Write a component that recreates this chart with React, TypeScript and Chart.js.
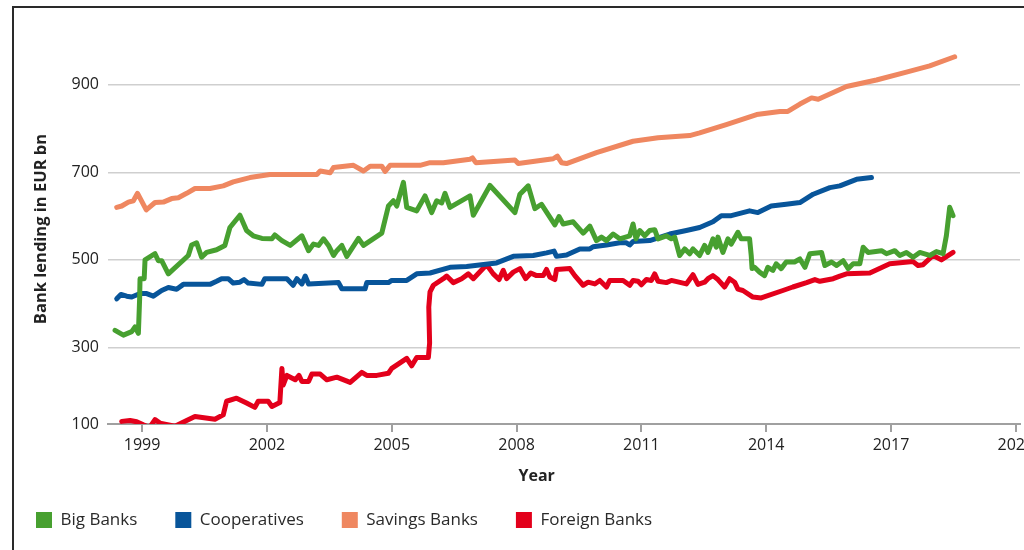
import React, { useEffect, useRef } from 'react';
import { Chart, registerables } from 'chart.js';

Chart.register(...registerables);

const FONT = "'Open Sans', 'Noto Sans', sans-serif";

const seriesLabels = ['Big Banks', 'Cooperatives', 'Savings Banks', 'Foreign Banks'];
const seriesColors = ['#47a030', '#08559a', '#ef8760', '#e3001b'];

const bigBanksYears = [
  1998.35, 1998.55, 1998.75, 1998.83, 1998.91, 1998.94, 1998.95, 1999.05, 1999.07, 1999.31, 1999.39, 1999.47,
  1999.63, 2000.11, 2000.19, 2000.31, 2000.43, 2000.55, 2000.79, 2000.99, 2001.11, 2001.35, 2001.51, 2001.67,
  2001.88, 2002.12, 2002.19, 2002.36, 2002.56, 2002.84, 2003.0, 2003.12, 2003.24, 2003.36, 2003.48, 2003.6,
  2003.68, 2003.8, 2003.92, 2004.2, 2004.32, 2004.76, 2004.92, 2005.04, 2005.12, 2005.28, 2005.36, 2005.6,
  2005.8, 2005.96, 2006.08, 2006.2, 2006.28, 2006.4, 2006.88, 2006.96, 2007.36, 2007.96, 2008.08, 2008.28,
  2008.44, 2008.6, 2008.92, 2009.02, 2009.12, 2009.36, 2009.6, 2009.76, 2009.92, 2010.04, 2010.16, 2010.32,
  2010.48, 2010.72, 2010.8, 2010.87, 2010.96, 2011.08, 2011.2, 2011.32, 2011.4, 2011.6, 2011.72, 2011.8,
  2011.92, 2012.04, 2012.16, 2012.24, 2012.4, 2012.52, 2012.6, 2012.72, 2012.8, 2012.84, 2012.96, 2013.08,
  2013.16, 2013.32, 2013.4, 2013.6, 2013.64, 2013.66, 2013.72, 2013.84, 2013.96, 2014.04, 2014.16, 2014.24,
  2014.36, 2014.48, 2014.68, 2014.81, 2014.93, 2015.05, 2015.33, 2015.41, 2015.57, 2015.69, 2015.85, 2015.97,
  2016.09, 2016.25, 2016.33, 2016.45, 2016.77, 2016.89, 2017.09, 2017.21, 2017.37, 2017.53, 2017.69, 2017.93,
  2018.09, 2018.25, 2018.33, 2018.41, 2018.49,
];
const bigBanksValues = [
  339, 328, 336, 347, 332, 411, 457, 457, 500, 514, 498, 498,
  468, 510, 534, 539, 506, 517, 523, 533, 574, 602, 567, 555,
  549, 548, 557, 544, 533, 555, 521, 536, 533, 548, 533, 510,
  521, 533, 508, 549, 533, 561, 623, 635, 623, 677, 620, 612,
  646, 608, 635, 630, 652, 620, 646, 602, 670, 608, 650, 669,
  617, 627, 580, 599, 582, 587, 561, 577, 544, 552, 544, 559,
  548, 555, 582, 548, 567, 555, 567, 569, 548, 555, 548, 552,
  510, 525, 514, 525, 510, 533, 517, 548, 529, 552, 517, 548,
  536, 563, 548, 548, 510, 480, 483, 472, 464, 483, 476, 491,
  480, 495, 495, 502, 483, 514, 517, 487, 495, 487, 498, 480,
  491, 491, 529, 517, 521, 514, 521, 510, 517, 506, 517, 510,
  519, 514, 555, 620, 601,
];

const cooperativesYears = [
  1998.39, 1998.49, 1998.63, 1998.75, 1998.95, 1999.11, 1999.27, 1999.47, 1999.63, 1999.83, 1999.99, 2000.63,
  2000.79, 2000.91, 2001.07, 2001.19, 2001.35, 2001.45, 2001.55, 2001.88, 2001.95, 2002.48, 2002.63, 2002.72,
  2002.84, 2002.92, 2003.0, 2003.72, 2003.8, 2004.36, 2004.4, 2004.92, 2005.0, 2005.36, 2005.6, 2005.92,
  2006.4, 2006.8, 2007.36, 2007.52, 2007.92, 2008.4, 2008.72, 2008.9, 2008.96, 2009.2, 2009.52, 2009.76,
  2009.84, 2010.16, 2010.48, 2010.64, 2010.72, 2010.8, 2011.2, 2011.68, 2012.08, 2012.4, 2012.72, 2012.92,
  2013.16, 2013.6, 2013.8, 2014.12, 2014.48, 2014.81, 2015.13, 2015.53, 2015.77, 2016.17, 2016.53,
];
const cooperativesValues = [
  411, 421, 417, 415, 423, 423, 417, 430, 437, 433, 444, 444,
  451, 457, 457, 447, 449, 455, 447, 444, 457, 457, 442, 457,
  445, 463, 445, 448, 434, 434, 448, 448, 453, 453, 468, 470,
  483, 485, 491, 493, 508, 510, 516, 520, 508, 511, 525, 525,
  530, 534, 539, 539, 534, 542, 544, 559, 567, 574, 587, 601,
  601, 612, 608, 623, 627, 631, 650, 665, 669, 684, 688,
];

const savingsBanksYears = [
  1998.39, 1998.51, 1998.67, 1998.79, 1998.89, 1999.1, 1999.31, 1999.51, 1999.71, 1999.87, 2000.07, 2000.27,
  2000.63, 2000.95, 2001.19, 2001.59, 2002.07, 2003.2, 2003.28, 2003.52, 2003.6, 2004.08, 2004.32, 2004.48,
  2004.76, 2004.84, 2004.96, 2005.68, 2005.92, 2006.24, 2006.88, 2006.94, 2007.02, 2007.96, 2008.04, 2008.88,
  2008.98, 2009.08, 2009.2, 2009.92, 2010.8, 2011.4, 2012.16, 2012.4, 2013.04, 2013.77, 2014.33, 2014.52,
  2014.81, 2015.09, 2015.25, 2015.93, 2016.65, 2017.37, 2017.93, 2018.53,
];
const savingsBanksValues = [
  620, 623, 632, 635, 652, 614, 631, 632, 640, 642, 652, 663,
  663, 669, 678, 688, 695, 695, 703, 699, 711, 716, 703, 714,
  714, 702, 716, 716, 722, 722, 730, 733, 722, 728, 720, 731,
  737, 722, 720, 745, 771, 779, 784, 790, 809, 832, 839, 839,
  856, 870, 867, 896, 911, 929, 943, 964,
];

const foreignBanksYears = [
  1998.51, 1998.71, 1998.87, 1999.03, 1999.18, 1999.31, 1999.43, 1999.79, 2000.07, 2000.27, 2000.75, 2000.95,
  2001.03, 2001.27, 2001.51, 2001.71, 2001.79, 2002.03, 2002.12, 2002.31, 2002.36, 2002.39, 2002.48, 2002.68,
  2002.77, 2002.84, 2003.0, 2003.08, 2003.28, 2003.44, 2003.68, 2004.0, 2004.28, 2004.4, 2004.64, 2004.92,
  2005.0, 2005.36, 2005.48, 2005.6, 2005.88, 2005.91, 2005.89, 2005.92, 2006.0, 2006.24, 2006.32, 2006.48,
  2006.68, 2006.84, 2006.96, 2007.28, 2007.44, 2007.58, 2007.68, 2007.76, 2007.92, 2008.08, 2008.22, 2008.34,
  2008.48, 2008.64, 2008.72, 2008.8, 2008.92, 2008.96, 2009.28, 2009.4, 2009.6, 2009.72, 2009.88, 2010.0,
  2010.16, 2010.24, 2010.56, 2010.72, 2010.8, 2010.92, 2011.0, 2011.12, 2011.24, 2011.32, 2011.4, 2011.6,
  2011.72, 2012.08, 2012.24, 2012.36, 2012.52, 2012.6, 2012.72, 2012.84, 2013.0, 2013.12, 2013.24, 2013.32,
  2013.44, 2013.68, 2013.88, 2014.4, 2014.64, 2014.97, 2015.17, 2015.29, 2015.61, 2015.77, 2015.93, 2016.49,
  2016.97, 2017.53, 2017.65, 2017.77, 2018.01, 2018.21, 2018.49,
];
const foreignBanksValues = [
  131, 133, 130, 123, 117, 135, 127, 120, 133, 142, 136, 146,
  177, 184, 173, 163, 177, 177, 165, 174, 252, 214, 236, 226,
  236, 222, 222, 239, 239, 226, 232, 220, 243, 236, 236, 241,
  252, 275, 258, 277, 277, 310, 392, 427, 442, 457, 463, 448,
  457, 468, 457, 489, 468, 455, 476, 457, 472, 480, 457, 470,
  464, 464, 478, 461, 455, 478, 480, 464, 442, 449, 445, 453,
  438, 453, 453, 442, 453, 451, 443, 455, 453, 468, 451, 448,
  453, 445, 466, 444, 449, 457, 464, 455, 438, 457, 449, 433,
  430, 415, 413, 430, 438, 448, 455, 451, 457, 463, 468, 470,
  491, 496, 487, 489, 510, 500, 517,
];

const xTickYears = [1999, 2002, 2005, 2008, 2011, 2014, 2017, 2020];
const yTickValues = [125, 300, 500, 700, 900];
const yTickLabels = ['100', '300', '500', '700', '900'];
const xAxisTitle = 'Year';
const yAxisTitle = 'Bank lending in EUR bn';

const seriesYears = [bigBanksYears, cooperativesYears, savingsBanksYears, foreignBanksYears];
const seriesValues = [bigBanksValues, cooperativesValues, savingsBanksValues, foreignBanksValues];

const yearTitlePlugin = {
  id: 'yearTitle',
  afterDraw(chart: any) {
    const { ctx, chartArea } = chart;
    ctx.save();
    ctx.font = `bold 16px ${FONT}`;
    ctx.fillStyle = '#222';
    ctx.textAlign = 'center';
    ctx.textBaseline = 'middle';
    ctx.fillText(xAxisTitle, chartArea.left + (chartArea.right - chartArea.left) * 0.47, chartArea.bottom + 52);
    ctx.restore();
  },
};

export default function App() {
  const canvasRef = useRef<HTMLCanvasElement | null>(null);

  useEffect(() => {
    const canvas = canvasRef.current;
    if (!canvas) return;
    const datasets = seriesLabels.map((label, i) => ({
      label,
      data: seriesYears[i].map((x, j) => ({ x, y: seriesValues[i][j] })),
      borderColor: seriesColors[i],
      backgroundColor: seriesColors[i],
      borderWidth: 5,
      pointRadius: 0,
      pointHoverRadius: 0,
      tension: 0,
      borderJoinStyle: 'round' as const,
      borderCapStyle: 'round' as const,
      fill: false,
    }));

    const chart = new Chart(canvas, {
      type: 'line',
      data: { datasets },
      plugins: [yearTitlePlugin],
      options: {
        animation: false,
        responsive: false,
        devicePixelRatio: 1,
        layout: { padding: { left: 8, right: 70, top: 34, bottom: 61.5 } },
        plugins: {
          tooltip: { enabled: false },
          legend: {
            position: 'bottom',
            align: 'start',
            labels: {
              boxWidth: 16,
              boxHeight: 16,
              padding: 38,
              color: '#2a2a2a',
              font: { family: FONT, size: 17 },
              generateLabels: (c: any) =>
                Chart.defaults.plugins.legend.labels
                  .generateLabels(c)
                  .map((l: any) => ({ ...l, lineWidth: 0, fillStyle: seriesColors[l.datasetIndex] })),
            },
          },
        },
        scales: {
          x: {
            type: 'linear',
            min: 1998.18,
            max: 2020.1,
            afterBuildTicks: (scale: any) => {
              scale.ticks = xTickYears.map((v) => ({ value: v }));
            },
            afterFit: (scale: any) => {
              scale.height = 49.5;
            },
            ticks: {
              autoSkip: false,
              maxRotation: 0,
              padding: 4,
              color: '#222',
              font: { family: FONT, size: 16 },
              callback: (v: any) => String(v),
            },
            grid: { drawOnChartArea: false, drawTicks: true, tickLength: 8, color: '#a0a0a0', lineWidth: 2 },
            border: { display: true, color: '#a0a0a0', width: 2 },
          },
          y: {
            type: 'linear',
            min: 125,
            max: 1016,
            afterBuildTicks: (scale: any) => {
              scale.ticks = yTickValues.map((v) => ({ value: v }));
            },
            afterFit: (scale: any) => {
              scale.width = 110;
              scale.paddingTop = 0;
              scale.paddingBottom = 0;
            },
            ticks: {
              padding: 9,
              color: '#222',
              font: { family: FONT, size: 16 },
              callback: (v: any) => {
                const idx = yTickValues.indexOf(Number(v));
                return idx >= 0 ? yTickLabels[idx] : '';
              },
            },
            grid: {
              drawTicks: false,
              color: (ctx: any) => (ctx.tick && ctx.tick.value === yTickValues[0] ? 'rgba(0,0,0,0)' : '#cfcfcf'),
              lineWidth: 1.5,
            },
            border: { display: false },
            title: {
              display: true,
              text: yAxisTitle,
              color: '#222',
              font: { family: FONT, size: 16.5, weight: 'bold' },
              padding: { top: 33, bottom: 0 },
            },
          },
        },
      },
    } as any);

    return () => chart.destroy();
  }, []);

  return (
    <div
      style={{
        position: 'fixed',
        left: 0,
        top: 0,
        width: 1024,
        height: 550,
        overflow: 'hidden',
        background: '#fff',
      }}
    >
      <canvas
        ref={canvasRef}
        width={1100}
        height={600}
        style={{ position: 'absolute', left: -10, top: 0, width: 1100, height: 600 }}
      />
      <div
        style={{
          position: 'absolute',
          left: 12,
          top: 6,
          width: 1100,
          height: 700,
          borderLeft: '2px solid #2a2a2a',
          borderTop: '2px solid #2a2a2a',
          pointerEvents: 'none',
        }}
      />
    </div>
  );
}
